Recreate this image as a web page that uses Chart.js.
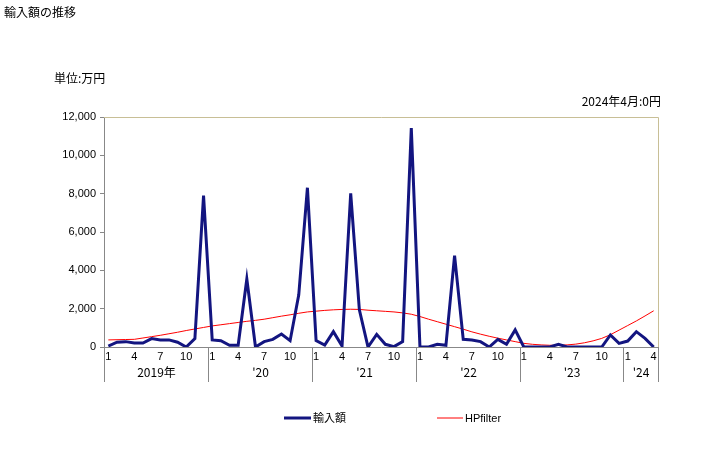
<!DOCTYPE html>
<html>
<head>
<meta charset="utf-8">
<script src="https://cdn.jsdelivr.net/npm/chart.js@4/dist/chart.umd.min.js"></script>
<style>
  html, body { margin: 0; padding: 0; background: #fff; }
  #wrap { position: relative; width: 728px; height: 450px; }
</style>
</head>
<body>
<div id="wrap"><canvas id="c" width="728" height="450"></canvas></div>
<script>
// ─── Data ────────────────────────────────────────────────────────────────────
const YEARS = ['2019年', "'20", "'21", "'22", "'23", "'24"];
const MONTH_COUNT = [12, 12, 12, 12, 12, 4];
const MONTH_TICKS = [1, 4, 7, 10];

const imports = [
  50, 250, 280, 210, 210, 440, 370, 370, 250, 0, 440, 7900,
  370, 330, 90, 90, 3550, 0, 280, 400, 680, 330, 2720, 8310,
  330, 100, 800, 50, 8020, 1940, 0, 660, 140, 20, 280, 11420,
  0, 0, 140, 90, 4770, 400, 370, 280, 0, 400, 140, 890,
  0, 0, 0, 0, 140, 0, 0, 0, 0, 0, 630, 190,
  310, 800, 450, 0,
];

const hpFilter = [
  370, 380, 390, 400, 470, 540, 610, 690, 770, 860, 940, 1020,
  1100, 1160, 1220, 1280, 1340, 1390, 1450, 1530, 1610, 1680, 1760, 1830,
  1870, 1910, 1940, 1960, 1970, 1960, 1920, 1890, 1860, 1830, 1780, 1710,
  1590, 1450, 1320, 1190, 1060, 930, 790, 670, 560, 460, 370, 280,
  190, 140, 110, 90, 90, 110, 150, 220, 320, 450, 640, 880,
  1120, 1360, 1620, 1890,
];

// month number for each category
const months = [];
MONTH_COUNT.forEach(n => { for (let m = 1; m <= n; m++) months.push(m); });
const labels = months.map((m, i) => String(i));

const FONT = "'Liberation Sans', 'Noto Sans CJK JP', sans-serif";
const JP = "'Noto Sans CJK JP', sans-serif";

// ─── Extras: frame, year row, legend, captions ───────────────────────────────
const extras = {
  id: 'extras',
  afterDraw(chart) {
    const { ctx, chartArea: a, scales: { x } } = chart;
    ctx.save();

    // top / right frame
    ctx.strokeStyle = '#c8bf96';
    ctx.lineWidth = 1;
    ctx.beginPath();
    ctx.moveTo(a.left, a.top + 0.5);
    ctx.lineTo(a.right + 0.5, a.top + 0.5);
    ctx.lineTo(a.right + 0.5, a.bottom);
    ctx.stroke();

    // year separators + labels
    ctx.strokeStyle = '#888';
    ctx.fillStyle = '#000';
    ctx.font = '12px ' + JP;
    ctx.textAlign = 'center';
    ctx.textBaseline = 'middle';
    let start = 0;
    const step = x.getPixelForValue(1) - x.getPixelForValue(0);
    YEARS.forEach((yr, k) => {
      const end = start + MONTH_COUNT[k];
      const x0 = Math.round(x.getPixelForValue(start) - step / 2) + 0.5;
      const x1 = Math.round(x.getPixelForValue(end - 1) + step / 2) + 0.5;
      ctx.beginPath();
      ctx.moveTo(x0, a.bottom); ctx.lineTo(x0, a.bottom + 35);
      ctx.moveTo(x1, a.bottom); ctx.lineTo(x1, a.bottom + 35);
      ctx.stroke();
      ctx.fillText(yr, (x0 + x1) / 2, a.bottom + 25);
      start = end;
    });

    // legend
    const ds = chart.data.datasets;
    const items = [[284, 311, 418], [437, 463, 418]];
    ds.forEach((d, i) => {
      const [lx0, lx1, ly] = items[i];
      ctx.strokeStyle = d.borderColor;
      ctx.lineWidth = d.borderWidth;
      ctx.beginPath();
      ctx.moveTo(lx0, ly); ctx.lineTo(lx1, ly);
      ctx.stroke();
      ctx.fillStyle = '#000';
      ctx.textAlign = 'left';
      ctx.font = '11px ' + FONT;
      ctx.fillText(d.label, lx1 + 2, ly + 1);
    });

    // captions
    ctx.fillStyle = '#000';
    ctx.textAlign = 'left';
    ctx.font = '12px ' + JP;
    ctx.fillText('輸入額の推移', 4, 12);
    ctx.fillText('単位:万円', 54, 78);
    ctx.textAlign = 'right';
    ctx.fillText('2024年4月:0円', 661, 101);
    ctx.restore();
  }
};

new Chart(document.getElementById('c'), {
  type: 'line',
  data: {
    labels,
    datasets: [
      {
        label: '輸入額',
        data: imports,
        borderColor: '#131580',
        borderWidth: 3,
        pointRadius: 0,
        tension: 0,
        fill: false,
      },
      {
        label: 'HPfilter',
        data: hpFilter,
        borderColor: '#ff0000',
        borderWidth: 1,
        pointRadius: 0,
        tension: 0,
        fill: false,
      },
    ]
  },
  options: {
    responsive: false,
    animation: false,
    layout: { padding: { left: 0, top: 117, right: 70, bottom: 0 } },
    plugins: { legend: { display: false }, tooltip: { enabled: false } },
    scales: {
      x: {
        offset: true,
        grid: { display: false },
        border: { color: '#888', width: 1 },
        ticks: {
          autoSkip: false,
          maxRotation: 0,
          padding: -5,
          color: '#000',
          font: { family: FONT, size: 11 },
          callback: (v, i) => MONTH_TICKS.includes(months[i]) ? String(months[i]) : '',
        },
        afterFit: s => { s.height = 103; },
      },
      y: {
        min: 0,
        max: 12000,
        grid: { drawOnChartArea: false, drawTicks: true, tickLength: 4, color: '#888' },
        border: { color: '#888', width: 1 },
        ticks: {
          stepSize: 2000,
          padding: 4,
          color: '#000',
          font: { family: FONT, size: 11 },
          callback: v => v.toLocaleString('en-US'),
        },
        afterFit: s => { s.width = 104; },
      },
    },
  },
  plugins: [extras],
});
</script>
</body>
</html>
